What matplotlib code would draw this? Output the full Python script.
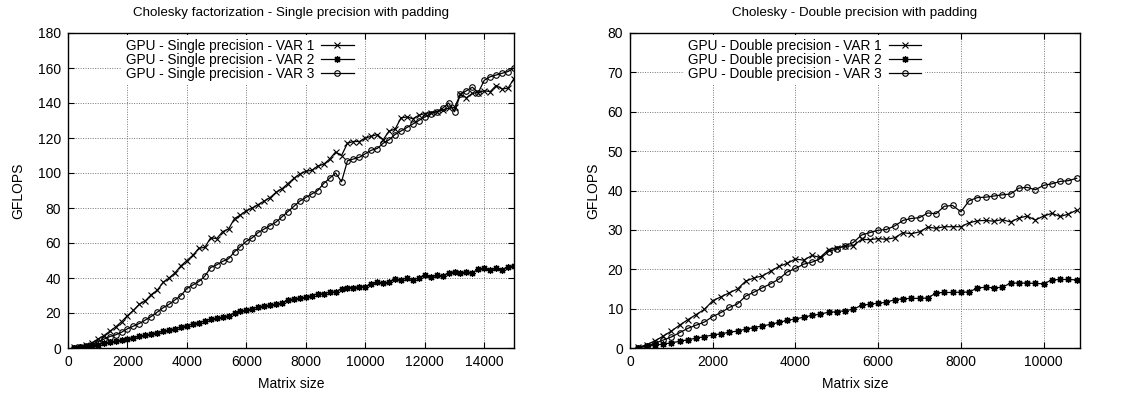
import numpy as np
import matplotlib
matplotlib.use("Agg")
import matplotlib.pyplot as plt

plt.rcParams['font.family'] = ['Liberation Sans', 'DejaVu Sans']

# matrix sizes (sampled every 200)
sizes_sp = np.arange(200, 15001, 200)
sizes_dp = np.arange(200, 10801, 200)

# single precision GFLOPS
sp_var1 = [0.3, 0.8, 1.5, 3, 5, 7, 9.5, 12, 15, 18.5,
           21.5, 25, 27, 30.5, 33, 37.5, 40, 43, 47, 50,
           53, 57, 57.5, 63, 62.5, 66.5, 68, 74, 76, 78.5,
           80, 82, 84, 86, 89, 91, 94, 97, 99.5, 101,
           101.5, 104, 105, 108, 112, 110, 117, 118, 118, 120,
           121, 122, 119, 124, 125, 131.5, 132, 131, 133, 134,
           134.5, 135, 136, 137, 137.5, 145, 143, 145.5, 146, 147,
           146.5, 150, 148, 148.5, 154]
sp_var2 = [0.2, 0.4, 0.8, 1.3, 2, 2.6, 3.2, 3.8, 4.5, 5.2,
           6, 6.6, 7.2, 8, 8.8, 9.5, 10.2, 11, 12, 12.8,
           13.8, 14.5, 15.5, 16.5, 17, 17.5, 18.5, 20, 21, 21.5,
           22.5, 23.5, 24, 24.5, 25, 25.5, 27.5, 28, 28.5, 29,
           30, 31, 31, 32, 32, 34, 34.5, 34.5, 35, 35,
           36.5, 37.5, 37, 37.5, 39.5, 39, 40, 39, 40, 41.5,
           40.5, 41.5, 41, 43, 43.5, 43, 43.5, 43, 45, 45.5,
           44.5, 45.5, 44.5, 46.5, 47]
sp_var3 = [0.2, 0.5, 1, 2, 3.5, 5, 6.5, 7.5, 9, 11,
           12.5, 14, 16, 18, 20.5, 23, 25, 27.5, 30, 34,
           36, 38, 41, 46, 47.5, 49.5, 51, 55, 58, 61,
           63, 66, 68, 70, 72, 75, 78, 81, 84, 86,
           88, 90, 94, 97, 100, 95, 107, 108, 109, 111,
           113, 114, 117, 119, 122, 124, 126, 128, 130, 132,
           134, 135, 137, 140, 135, 145, 147, 149, 146, 153,
           155, 156, 157, 158, 160]

# double precision GFLOPS
dp_var1 = [0.2, 0.8, 1.8, 3, 4.3, 5.8, 7.2, 8.5, 9.8, 12,
           13, 14, 15, 17, 17.8, 18.3, 19.5, 20.7, 21.5, 22.6,
           22.3, 23.5, 23, 25, 25.5, 25.8, 26, 27.6, 27.5, 27.8,
           27.6, 28, 29.3, 29, 29.5, 30.7, 30.4, 30.8, 30.8, 30.8,
           31.8, 32.3, 32.4, 32.2, 32.6, 32, 33, 33.5, 32.5, 33.5,
           34.2, 33.4, 34, 35]
dp_var2 = [0.1, 0.4, 0.7, 1, 1.3, 1.7, 2.1, 2.5, 2.9, 3.3,
           3.6, 4, 4.3, 4.8, 5.2, 5.6, 6, 6.5, 7, 7.4,
           7.8, 8.3, 8.6, 9.1, 9.2, 9.5, 9.8, 10.9, 11.1, 11.4,
           11.6, 12.3, 12.5, 12.6, 12.6, 12.7, 14, 14.1, 14.1, 14.2,
           14.2, 15.3, 15.4, 15.3, 15.4, 16.5, 16.5, 16.5, 16.4, 16.3,
           17.3, 17.4, 17.4, 17.3]
dp_var3 = [0.1, 0.5, 1.2, 2, 2.8, 3.9, 5, 5.8, 6.6, 8,
           9, 10.3, 11.2, 13.2, 14.2, 15.3, 16.3, 17.5, 19.3, 20.2,
           21.3, 21.8, 22.7, 24.5, 25.2, 26, 26.8, 28.7, 29.3, 29.9,
           30.1, 31, 32.4, 32.9, 33.1, 34.3, 34.1, 36, 36.2, 34.6,
           37.4, 38.2, 38.3, 38.6, 38.9, 39.1, 40.6, 40.8, 40.2, 41.3,
           41.7, 42.3, 42.5, 43.1]

labels_sp = ["GPU - Single precision - VAR 1", "GPU - Single precision - VAR 2",
             "GPU - Single precision - VAR 3"]
labels_dp = ["GPU - Double precision - VAR 1", "GPU - Double precision - VAR 2",
             "GPU - Double precision - VAR 3"]

styles = [dict(marker='x', ms=4, mew=0.8),
          dict(marker=(8, 2, 0), ms=5, mew=0.9),
          dict(marker='o', ms=4, mew=0.8, mfc='none')]


def draw(ax, x, series, labels, title, xlim, ylim, xticks, yticks, ypad):
    for y, lab, st in zip(series, labels, styles):
        ax.plot(x, y, color='black', lw=0.9, label=lab, **st)
    ax.set_xlim(*xlim)
    ax.set_ylim(*ylim)
    ax.set_xticks(xticks)
    ax.set_yticks(yticks)
    ax.grid(True, color='#777777', linestyle=(0, (1, 1.5)), lw=0.7)
    ax.tick_params(direction='in', top=True, right=True, labelsize=10, length=4, pad=5)
    for s in ax.spines.values():
        s.set_linewidth(1.0)
    ax.set_title(title, fontsize=9.6, pad=12)
    ax.set_xlabel("Matrix size", fontsize=10, labelpad=6)
    ax.set_ylabel("GFLOPS", fontsize=10, labelpad=ypad)
    leg = ax.legend(loc='upper left', bbox_to_anchor=(0.105, 1.015), markerfirst=False,
                    frameon=True, fontsize=9.8, handlelength=2.4, handletextpad=0.5,
                    labelspacing=0.0, borderpad=0.3, framealpha=1)
    leg.get_frame().set_edgecolor('white')
    leg.get_frame().set_linewidth(0)


fig = plt.figure(figsize=(11.25, 3.96), dpi=100)
ax1 = fig.add_axes([68 / 1125, 48 / 396, 446 / 1125, 315 / 396])
ax2 = fig.add_axes([630 / 1125, 48 / 396, 450 / 1125, 315 / 396])

draw(ax1, sizes_sp, [sp_var1, sp_var2, sp_var3], labels_sp,
     "Cholesky factorization - Single precision with padding",
     (0, 15000), (0, 180), np.arange(0, 14001, 2000), np.arange(0, 181, 20), 9)
draw(ax2, sizes_dp, [dp_var1, dp_var2, dp_var3], labels_dp,
     "Cholesky - Double precision with padding",
     (0, 10880), (0, 80), np.arange(0, 10001, 2000), np.arange(0, 81, 10), 5)

fig.savefig("out.png", dpi=100)
